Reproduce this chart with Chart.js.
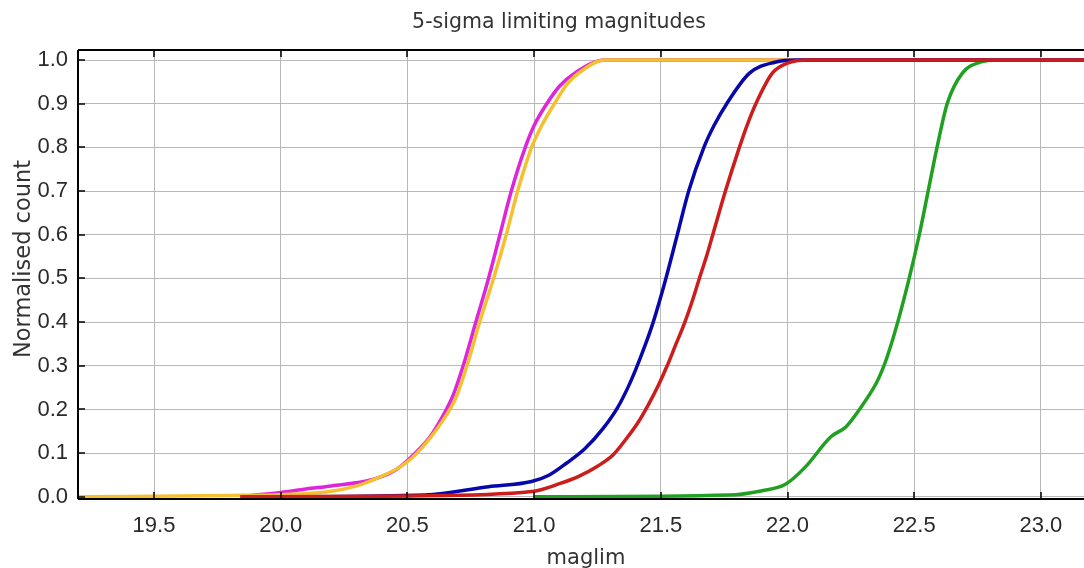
<!DOCTYPE html>
<html>
<head>
<meta charset="utf-8">
<script src="https://cdn.jsdelivr.net/npm/chart.js@4/dist/chart.umd.min.js"></script>
<style>
  html, body { margin: 0; padding: 0; background: #fff; }
  #wrap { width: 1084px; height: 568px; }
</style>
</head>
<body>
<div id="wrap"><canvas id="maglim" width="1084" height="568"></canvas></div>
<script>
const chartTitle = '5-sigma limiting magnitudes';
const xTitle = 'maglim';
const yTitle = 'Normalised count';

const xTicks = [19.5, 20.0, 20.5, 21.0, 21.5, 22.0, 22.5, 23.0];
const yTicks = [0.0, 0.1, 0.2, 0.3, 0.4, 0.5, 0.6, 0.7, 0.8, 0.9, 1.0];

// cumulative curves (x = maglim, y = normalised count)
const magentaX = [19.88, 20.0, 20.1, 20.2, 20.36, 20.45, 20.5, 20.59, 20.635, 20.68, 20.72, 20.77, 20.82, 20.865, 20.91, 20.965, 21.0, 21.05, 21.10, 21.16, 21.28, 23.17];
const magentaY = [0.003, 0.01, 0.018, 0.025, 0.039, 0.06, 0.083, 0.138, 0.18, 0.232, 0.30, 0.40, 0.50, 0.60, 0.70, 0.80, 0.85, 0.90, 0.94, 0.97, 1.0, 1.0];

const orangeX = [19.2, 19.8, 20.0, 20.18, 20.3, 20.39, 20.47, 20.52, 20.59, 20.64, 20.69, 20.735, 20.785, 20.84, 20.89, 20.935, 20.99, 21.03, 21.08, 21.13, 21.18, 21.28, 23.17];
const orangeY = [0.0, 0.003, 0.005, 0.011, 0.025, 0.045, 0.068, 0.09, 0.135, 0.175, 0.225, 0.30, 0.40, 0.50, 0.60, 0.70, 0.80, 0.85, 0.90, 0.945, 0.972, 1.0, 1.0];

const blueX = [20.0, 20.57, 20.82, 20.99, 21.06, 21.13, 21.20, 21.27, 21.33, 21.37, 21.40, 21.44, 21.47, 21.52, 21.565, 21.61, 21.67, 21.71, 21.76, 21.85, 21.95, 22.04, 23.17];
const blueY = [0.0, 0.004, 0.023, 0.035, 0.05, 0.078, 0.11, 0.155, 0.205, 0.25, 0.29, 0.35, 0.40, 0.50, 0.60, 0.70, 0.80, 0.85, 0.90, 0.97, 0.995, 1.0, 1.0];

const redX = [19.84, 20.5, 20.99, 21.10, 21.18, 21.25, 21.31, 21.36, 21.41, 21.45, 21.49, 21.525, 21.56, 21.595, 21.625, 21.652, 21.68, 21.705, 21.755, 21.81, 21.84, 21.875, 21.94, 22.0, 22.08, 23.17];
const redY = [0.0, 0.002, 0.012, 0.03, 0.048, 0.07, 0.095, 0.13, 0.17, 0.21, 0.255, 0.30, 0.35, 0.40, 0.45, 0.50, 0.55, 0.60, 0.70, 0.80, 0.85, 0.90, 0.97, 0.993, 1.0, 1.0];

const greenX = [21.0, 21.77, 21.9, 21.99, 22.07, 22.17, 22.23, 22.29, 22.35, 22.37, 22.39, 22.435, 22.48, 22.52, 22.555, 22.59, 22.63, 22.69, 22.76, 22.83, 23.17];
const greenY = [0.0, 0.004, 0.014, 0.028, 0.068, 0.137, 0.16, 0.205, 0.26, 0.285, 0.315, 0.40, 0.50, 0.60, 0.70, 0.80, 0.90, 0.97, 0.995, 1.0, 1.0];

function toPoints (xs, ys) {
	return xs.map((x, i) => ({ x, y: ys[i] }));
}

function curve (label, xs, ys, color, order) {
	return {
		label,
		data: toPoints(xs, ys),
		borderColor: color,
		backgroundColor: color,
		borderWidth: 3.5,
		pointRadius: 0,
		cubicInterpolationMode: 'monotone',
		order
	};
}

// black frame, inward tick marks and the three titles
const frame = {
	id: 'frame',
	afterDatasetsDraw (chart) {
		const { ctx, chartArea: a, scales: { x, y } } = chart;

		ctx.save();
		ctx.strokeStyle = '#000';
		ctx.lineWidth = 2;
		ctx.beginPath();
		ctx.moveTo(a.left, a.top);
		ctx.lineTo(a.right, a.top);
		ctx.moveTo(a.left, a.top);
		ctx.lineTo(a.left, a.bottom);
		ctx.moveTo(a.left, a.bottom);
		ctx.lineTo(a.right, a.bottom);
		ctx.stroke();

		ctx.lineWidth = 1.5;
		ctx.beginPath();
		xTicks.forEach(v => {
			const px = Math.round(x.getPixelForValue(v));
			ctx.moveTo(px, a.bottom);
			ctx.lineTo(px, a.bottom - 7);
			ctx.moveTo(px, a.top);
			ctx.lineTo(px, a.top + 7);
		});
		yTicks.forEach(v => {
			const py = Math.round(y.getPixelForValue(v));
			ctx.moveTo(a.left, py);
			ctx.lineTo(a.left + 7, py);
		});
		ctx.stroke();
		ctx.restore();
	},
	afterDraw (chart) {
		const ctx = chart.ctx;
		ctx.save();
		ctx.fillStyle = '#333';
		ctx.textAlign = 'center';
		ctx.textBaseline = 'alphabetic';

		ctx.font = '20.5px "DejaVu Sans"';
		ctx.fillText(chartTitle, 559, 28);

		ctx.font = '21px "DejaVu Sans"';
		ctx.fillText(xTitle, 586, 564);

		ctx.font = '22.5px "DejaVu Sans"';
		ctx.translate(30, 259);
		ctx.rotate(-Math.PI / 2);
		ctx.fillText(yTitle, 0, 0);
		ctx.restore();
	}
};

const tickFont = { family: '"Liberation Sans", Arial, sans-serif', size: 22 };

new Chart(document.getElementById('maglim'), {
	type: 'line',
	data: {
		datasets: [
			curve('red', redX, redY, '#cc1c1c', 1),
			curve('blue', blueX, blueY, '#0808aa', 2),
			curve('orange', orangeX, orangeY, '#f4c030', 3),
			curve('magenta', magentaX, magentaY, '#e024dc', 4),
			curve('green', greenX, greenY, '#20a020', 5)
		]
	},
	options: {
		responsive: false,
		animation: false,
		devicePixelRatio: 1,
		layout: { padding: { top: 50, left: 0, right: 0, bottom: 0 } },
		plugins: {
			legend: { display: false },
			title: { display: false },
			tooltip: { enabled: false }
		},
		scales: {
			x: {
				type: 'linear',
				min: 19.2,
				max: 23.17,
				afterFit: s => { s.height = 69; },
				afterBuildTicks: s => { s.ticks = xTicks.map(value => ({ value })); },
				grid: { color: '#b8b8b8', lineWidth: 1, drawTicks: false },
				border: { display: false },
				ticks: {
					padding: 14,
					color: '#2a2a2a',
					font: tickFont,
					maxRotation: 0,
					callback: v => v.toFixed(1)
				}
			},
			y: {
				min: -0.005,
				max: 1.023,
				afterFit: s => { s.width = 78; },
				afterBuildTicks: s => { s.ticks = yTicks.map(value => ({ value })); },
				grid: { color: '#b8b8b8', lineWidth: 1, drawTicks: false },
				border: { display: false },
				ticks: {
					padding: 10,
					color: '#2a2a2a',
					font: tickFont,
					callback: v => v.toFixed(1)
				}
			}
		}
	},
	plugins: [frame]
});
</script>
</body>
</html>
